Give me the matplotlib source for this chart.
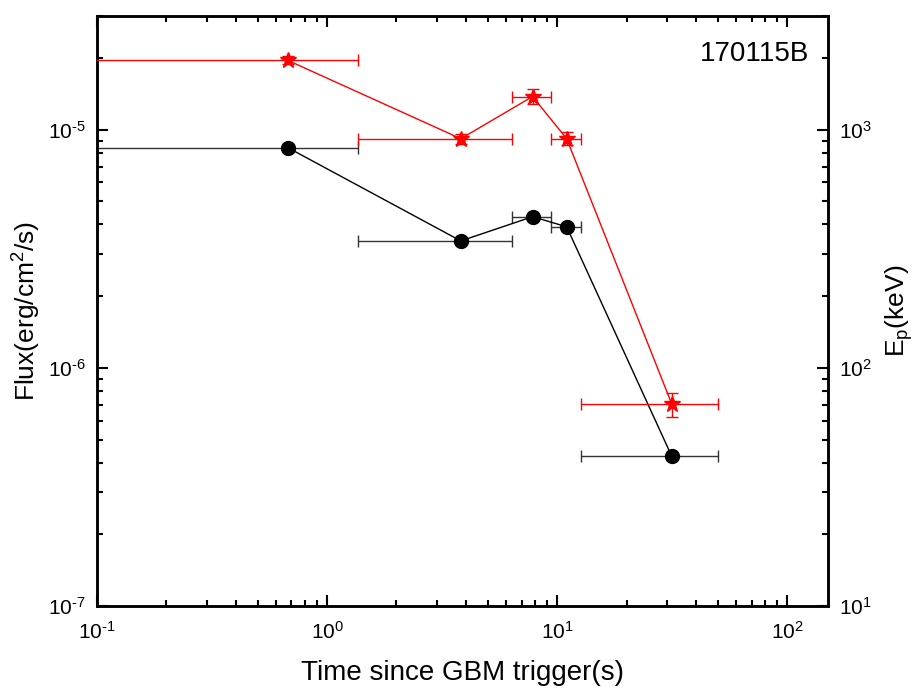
import numpy as np
import matplotlib
matplotlib.use('Agg')
import matplotlib.pyplot as plt
from matplotlib.ticker import FuncFormatter

plt.rcParams['font.family'] = ['Liberation Sans', 'DejaVu Sans']
plt.rcParams['mathtext.fontset'] = 'custom'
plt.rcParams['mathtext.rm'] = 'Liberation Sans'
plt.rcParams['mathtext.default'] = 'regular'

# time bins (s)
t = [0.675, 3.81, 7.81, 10.99, 31.4]
t_lo = [0.01, 1.36, 6.34, 9.35, 12.64]
t_hi = [1.36, 6.34, 9.35, 12.64, 50.2]

# flux (erg/cm2/s)
flux = [8.4e-6, 3.41e-6, 4.31e-6, 3.91e-6, 4.27e-7]

# peak energy (keV)
ep = [1953, 916, 1377, 916, 70.8]
ep_up = [80, 45, 110, 60, 7.5]
ep_dn = [75, 43, 100, 55, 8.5]

t = np.array(t)
xerr = [t - np.array(t_lo), np.array(t_hi) - t]

def pow10(v, pos):
	e = int(round(np.log10(v)))
	return '10$^{\\text{%d}}$' % e

fig = plt.figure(figsize=(9.17, 6.95), dpi=100)
ax = fig.add_axes([0.1058, 0.128, 0.797, 0.849])
ax2 = ax.twinx()

ax.errorbar(t, flux, xerr=xerr, fmt='o-', color='k', ecolor='#333333',
	ms=10, lw=1, elinewidth=1, capsize=4, zorder=3)
ax2.errorbar(t, ep, xerr=xerr, yerr=[ep_dn, ep_up], fmt='*-', color='red',
	ms=12, lw=1, elinewidth=1, capsize=4, zorder=3)

ax.set_xscale('log')
ax.set_yscale('log')
ax2.set_yscale('log')
ax.set_xlim(0.1, 150)
ax.set_ylim(1e-7, 3e-5)
ax2.set_ylim(10, 3000)

for a in (ax.xaxis, ax.yaxis, ax2.yaxis):
	a.set_major_formatter(FuncFormatter(pow10))

ax.set_xlabel('Time since GBM trigger(s)', fontsize=20, labelpad=12)
ax.set_ylabel('Flux(erg/cm$^2$/s)', fontsize=19, labelpad=4)
ax2.set_ylabel('E$_p$(keV)', fontsize=19, labelpad=8)

ax.tick_params(which='both', direction='in', top=True, right=False, labelsize=15, width=1.5)
ax.tick_params(which='major', length=8, pad=8)
ax.tick_params(which='minor', length=4)
ax.tick_params(axis='x', which='major', pad=11)
ax2.tick_params(which='both', direction='in', labelsize=15, width=1.5)
ax2.tick_params(which='major', length=8, pad=8)
ax2.tick_params(which='minor', length=4)
for a in (ax, ax2):
	for s in a.spines.values():
		s.set_linewidth(1.8)

ax.text(0.975, 0.958, '170115B', transform=ax.transAxes, ha='right', va='top', fontsize=20)

fig.savefig('out.png', dpi=100)
